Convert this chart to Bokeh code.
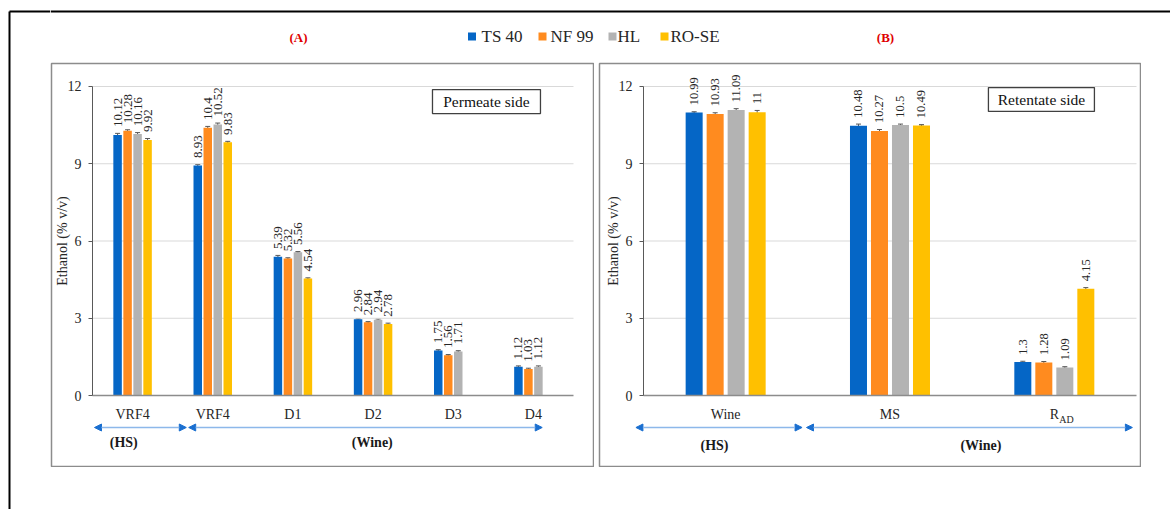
import math
from bokeh.plotting import figure
from bokeh.models import (Range1d, FixedTicker, ColumnDataSource, Whisker, TeeHead,
                          Spacer, Arrow, NormalHead)
from bokeh.layouts import row, column
from bokeh.embed import file_html
from bokeh.resources import INLINE
from bokeh.core.properties import value

# ---------------- data ----------------
series = ["TS 40", "NF 99", "HL", "RO-SE"]
colors = ["#0566C6", "#FF8B1F", "#B3B3B3", "#FFC000"]

# Panel A: permeate side
cats_a = ["VRF4", "VRF4", "D1", "D2", "D3", "D4"]
ts40_a = [10.12, 8.93, 5.39, 2.96, 1.75, 1.12]
nf99_a = [10.28, 10.4, 5.32, 2.84, 1.56, 1.03]
hl_a = [10.16, 10.52, 5.56, 2.94, 1.71, 1.12]
rose_a = [9.92, 9.83, 4.54, 2.78, None, None]
err_ts40_a = [0.06, 0.04, 0.05, 0.03, 0.03, 0.03]
err_nf99_a = [0.04, 0.05, 0.03, 0.03, 0.03, 0.03]
err_hl_a = [0.05, 0.06, 0.03, 0.03, 0.03, 0.03]
err_rose_a = [0.06, 0.04, 0.03, 0.03, None, None]
groups_a = ["(HS)", "(Wine)"]

# Panel B: retentate side
cats_b = ["Wine", "MS", "R"]
cats_b_sub = ["", "", "AD"]
ts40_b = [10.99, 10.48, 1.3]
nf99_b = [10.93, 10.27, 1.28]
hl_b = [11.09, 10.5, 1.09]
rose_b = [11, 10.49, 4.15]
err_ts40_b = [0.03, 0.06, 0.03]
err_nf99_b = [0.05, 0.06, 0.04]
err_hl_b = [0.05, 0.04, 0.03]
err_rose_b = [0.07, 0.03, 0.04]
groups_b = ["(HS)", "(Wine)"]

y_ticks = [0, 3, 6, 9, 12]
y_label = "Ethanol (% v/v)"
panel_titles = ["(A)", "(B)"]
box_titles = ["Permeate side", "Retentate side"]

FONT = "Liberation Serif"
TXT = "#262626"


def fmt(v):
    return f"{v:g}"


def make_panel(cats, vals, errs, width, height, xr, yr, slot, bw, lab_size,
               box, box_text, arrows, glabels, sub=None):
    p = figure(width=width, height=height, x_range=Range1d(*xr), y_range=Range1d(*yr),
               output_backend="svg", toolbar_location=None, title=None, min_border=1,
               outline_line_color="#8c8c8c", outline_line_width=1.5,
               background_fill_color="white", border_fill_color="white")
    p.xgrid.visible = False
    p.ygrid.visible = False
    n = len(cats)
    # gridlines
    gl = [t for t in y_ticks if t > 0]
    p.segment(x0=[0] * len(gl), x1=[n] * len(gl), y0=gl, y1=gl,
              line_color="#D9D9D9", line_width=1)
    # bars
    for j, (sv, se) in enumerate(zip(vals, errs)):
        xs, tops, ups, los, labs, lys = [], [], [], [], [], []
        for i, (v, e) in enumerate(zip(sv, se)):
            if v is None:
                continue
            xs.append(i + 0.5 + (j - 1.5) * slot)
            tops.append(v)
            ups.append(v + e)
            los.append(v - e)
            labs.append(fmt(v))
            lys.append(v + e + 0.25)
        src = ColumnDataSource(dict(x=xs, top=tops, upper=ups, lower=los, lab=labs, ly=lys))
        p.vbar(x="x", top="top", width=bw, source=src, fill_color=colors[j],
               line_color=None)
        w = Whisker(source=src, base="x", upper="upper", lower="lower",
                    line_color="#595959", line_width=1,
                    upper_head=TeeHead(size=5, line_color="#595959", line_width=1),
                    lower_head=TeeHead(size=5, line_color="#595959", line_width=1))
        p.add_layout(w)
        p.text(x="x", y="ly", text="lab", source=src, angle=math.pi / 2,
               text_align="left", text_baseline="middle",
               text_font=value(FONT), text_font_size=lab_size, text_color=TXT)
    # axes
    p.yaxis.fixed_location = 0
    p.yaxis.bounds = (0, 12)
    p.yaxis.ticker = FixedTicker(ticks=y_ticks, minor_ticks=[])
    p.yaxis.axis_line_color = "#595959"
    p.yaxis.major_tick_line_color = "#595959"
    p.yaxis.major_tick_out = 4
    p.yaxis.major_tick_in = 0
    p.yaxis.minor_tick_line_color = None
    p.yaxis.major_label_standoff = 7
    p.yaxis.major_label_text_font = FONT
    p.yaxis.major_label_text_font_size = "14px"
    p.yaxis.major_label_text_color = TXT
    p.yaxis.axis_label = y_label
    p.yaxis.axis_label_text_font = FONT
    p.yaxis.axis_label_text_font_size = "14px"
    p.yaxis.axis_label_text_font_style = "normal"
    p.yaxis.axis_label_text_color = TXT
    p.yaxis.axis_label_standoff = -5

    p.xaxis.fixed_location = 0
    p.xaxis.bounds = (0, n)
    ticks = [i + 0.5 for i in range(n)]
    p.xaxis.ticker = FixedTicker(ticks=ticks, minor_ticks=[])
    p.xaxis.major_label_overrides = {t: c for t, c in zip(ticks, cats)}
    p.xaxis.axis_line_color = "#8c8c8c"
    p.xaxis.axis_line_width = 1.3
    p.xaxis.major_tick_line_color = None
    p.xaxis.minor_tick_line_color = None
    p.xaxis.major_label_standoff = 5
    p.xaxis.major_label_text_font = FONT
    p.xaxis.major_label_text_font_size = "14px"
    p.xaxis.major_label_text_color = TXT
    if sub is not None:
        sx = [t for t, s in zip(ticks, sub) if s]
        st = [s for s in sub if s]
        p.text(x=sx, y=[-0.93] * len(sx), text=st, x_offset=5,
               text_align="left", text_baseline="middle",
               text_font=value(FONT), text_font_size="10px", text_color=TXT)

    # side-label box
    (bl, br, bt, bb) = box
    p.quad(left=[bl], right=[br], top=[bt], bottom=[bb], fill_color="white",
           line_color="#404040", line_width=1.3)
    p.text(x=[(bl + br) / 2], y=[(bt + bb) / 2], text=[box_text], text_align="center",
           text_baseline="middle", text_font=value(FONT), text_font_size="15.5px",
           text_color="#111111")

    # group arrows and labels
    for (x0, x1, ya), (gt, gx, gy) in zip(arrows, glabels):
        p.add_layout(Arrow(x_start=x0, y_start=ya, x_end=x1, y_end=ya,
                           line_color="#8DB8EA", line_width=1.5,
                           start=NormalHead(size=7, fill_color="#1A6FD0", line_color="#1A6FD0"),
                           end=NormalHead(size=7, fill_color="#1A6FD0", line_color="#1A6FD0")))
        p.text(x=[gx], y=[gy], text=[gt], text_align="center", text_baseline="middle",
               text_font=value(FONT), text_font_size="14px", text_font_style="bold",
               text_color="#1a1a1a")
    return p


ya0 = -2.757
ya1 = 12.893

pA = make_panel(cats_a, [ts40_a, nf99_a, hl_a, rose_a],
                [err_ts40_a, err_nf99_a, err_hl_a, err_rose_a],
                544, 405, (-0.5114, 6.2495), (ya0, ya1), 0.1247, 0.106, "13px",
                (4.241, 5.588, 11.88, 10.95), box_titles[0],
                [(0.025, 1.17, -1.243), (1.2, 5.61, -1.243)],
                [(groups_a[0], 0.39, -1.825), (groups_a[1], 3.49, -1.825)])

pB = make_panel(cats_b, [ts40_b, nf99_b, hl_b, rose_b],
                [err_ts40_b, err_nf99_b, err_hl_b, err_rose_b],
                543, 405, (-0.2677, 3.0244), (ya0, ya1), 0.1278, 0.1035, "12.5px",
                (2.099, 2.744, 11.96, 11.03), box_titles[1],
                [(-0.046, 0.965, -1.243), (0.992, 2.975, -1.243)],
                [(groups_b[0], 0.432, -1.94), (groups_b[1], 2.053, -1.94)],
                sub=cats_b_sub)

# header with legend and panel titles
hd = figure(width=1120, height=62, x_range=Range1d(50, 1170), y_range=Range1d(62, 0),
            output_backend="svg", toolbar_location=None, title=None, min_border=0,
            x_axis_location=None, y_axis_location=None, outline_line_color=None)
hd.xgrid.visible = False
hd.ygrid.visible = False
hd.segment(x0=[50], x1=[1170], y0=[11], y1=[11], line_color="black", line_width=2)
hd.scatter(x=[471.5, 542, 612, 664], y=[36, 36, 36, 36], marker="square", size=8,
           fill_color=colors, line_color=None)
hd.text(x=[481, 550, 617, 670], y=[36, 36, 36, 36], text=series, text_align="left",
        text_baseline="middle", text_font=value(FONT), text_font_size="17px",
        text_color=TXT)
hd.text(x=[298, 885], y=[37, 37], text=panel_titles, text_align="center",
        text_baseline="middle", text_font=value(FONT), text_font_size="13px",
        text_font_style="bold", text_color="#E00000")

# left strip with outer frame
ls = figure(width=50, height=509, x_range=Range1d(0, 50), y_range=Range1d(509, 0),
            output_backend="svg", toolbar_location=None, title=None, min_border=0,
            x_axis_location=None, y_axis_location=None, outline_line_color=None)
ls.xgrid.visible = False
ls.ygrid.visible = False
ls.segment(x0=[9, 9], x1=[50, 9], y0=[11, 11], y1=[11, 509], line_color="black", line_width=2)

layout = row(ls, column(hd, row(pA, Spacer(width=4, height=405), pB)))

open("out.html", "w").write(file_html(layout, INLINE))
